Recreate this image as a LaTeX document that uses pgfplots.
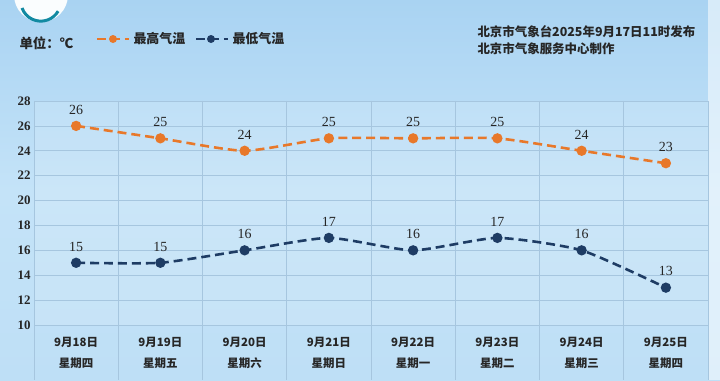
\documentclass[border=0pt]{standalone}
\usepackage{fontspec}
\setmainfont{Liberation Serif}
\newfontfamily\cjk{Noto Sans CJK SC}
\usepackage{pgfplots}
\pgfplotsset{compat=1.18}
\definecolor{hiC}{HTML}{E8782A}
\definecolor{loC}{HTML}{1E3C64}
\definecolor{gridC}{HTML}{A6C6DF}
\definecolor{bgTop}{HTML}{A9D3F2}
\definecolor{bgMid}{HTML}{C4E3F8}
\definecolor{bgBot}{HTML}{BEDFF6}
\begin{document}
\begin{tikzpicture}[x=1bp,y=1bp]
\path[use as bounding box] (0,0) rectangle (720,380);
\clip (0,0) rectangle (720,380);
\shade[top color=bgTop, bottom color=bgBot, middle color=bgMid] (0,0) rectangle (720,380);
\fill[white!85!bgMid, opacity=0.6] (708,0) rectangle (720,380);
% logo (partially cut off)
\fill[white!92!bgMid] (41,385) circle (27);
\draw[line width=3pt, color=loC!60!cyan] (22,372) arc (200:330:20);
% header
\node[anchor=west, font=\cjk\bfseries\fontsize{13.5}{15}\selectfont, text=black!85] at (16,337) {单位：℃};
\draw[hiC, line width=2.6pt, dash pattern=on 9pt off 5pt] (97,341) -- (129,341);
\fill[hiC] (113,341) circle (4);
\node[anchor=west, font=\cjk\bfseries\fontsize{13}{15}\selectfont, text=black!85] at (130,341) {最高气温};
\draw[loC, line width=2.6pt, dash pattern=on 9pt off 5pt] (196,341) -- (228,341);
\fill[loC] (211,341) circle (4);
\node[anchor=west, font=\cjk\bfseries\fontsize{13}{15}\selectfont, text=black!85] at (229,341) {最低气温};
\node[anchor=west, font=\cjk\bfseries\fontsize{12.5}{14}\selectfont, text=black!85] at (474,348) {北京市气象台2025年9月17日11时发布};
\node[anchor=west, font=\cjk\bfseries\fontsize{12.5}{14}\selectfont, text=black!85] at (474,331) {北京市气象服务中心制作};
\begin{pgfinterruptboundingbox}
\begin{axis}[
  at={(34bp,55bp)}, anchor=south west,
  width=674bp, height=224bp, scale only axis,
  xmin=-0.5, xmax=7.5, ymin=10, ymax=28,
  ytick={10,12,...,28},
  xtick={0,...,7},
  xticklabels={9月18日\\星期四,9月19日\\星期五,9月20日\\星期六,9月21日\\星期日,9月22日\\星期一,9月23日\\星期二,9月24日\\星期三,9月25日\\星期四},
  xticklabel style={font=\cjk\bfseries\fontsize{11.5}{21}\selectfont, align=center, text=black!85, yshift=-9bp},
  yticklabel style={font=\bfseries\fontsize{13}{14}\selectfont, text=black!85},
  /pgf/number format/assume math mode=true,
  major tick length=0pt,
  ymajorgrids, grid style={gridC, line width=0.6pt},
  axis line style={draw=none},
  axis background/.style={fill=white, fill opacity=0.12},
  clip=false,
  nodes near coords,
  every node near coord/.append style={font=\fontsize{14}{15}\selectfont, text=black!85, yshift=7bp},
]
\foreach \k in {-0.5,0.5,...,7.5} {
  \edef\tmp{\noexpand\draw[gridC, line width=0.6pt] (axis cs:\k,28) -- (axis cs:\k,5.55);}
  \tmp
}
\draw[gridC, line width=0.6pt] (axis cs:-0.5,10) -- (axis cs:7.5,10);
\addplot[hiC, line width=2.6pt, dash pattern=on 9pt off 5pt, smooth, tension=0.35,
  mark=*, mark size=3.8pt, mark options={solid, fill=hiC, draw=hiC}]
  coordinates {(0,26) (1,25) (2,24) (3,25) (4,25) (5,25) (6,24) (7,23)};
\addplot[loC, line width=2.6pt, dash pattern=on 9pt off 5pt, smooth, tension=0.35,
  mark=*, mark size=3.8pt, mark options={solid, fill=loC, draw=loC}]
  coordinates {(0,15) (1,15) (2,16) (3,17) (4,16) (5,17) (6,16) (7,13)};
\end{axis}
\end{pgfinterruptboundingbox}
\end{tikzpicture}
\end{document}
